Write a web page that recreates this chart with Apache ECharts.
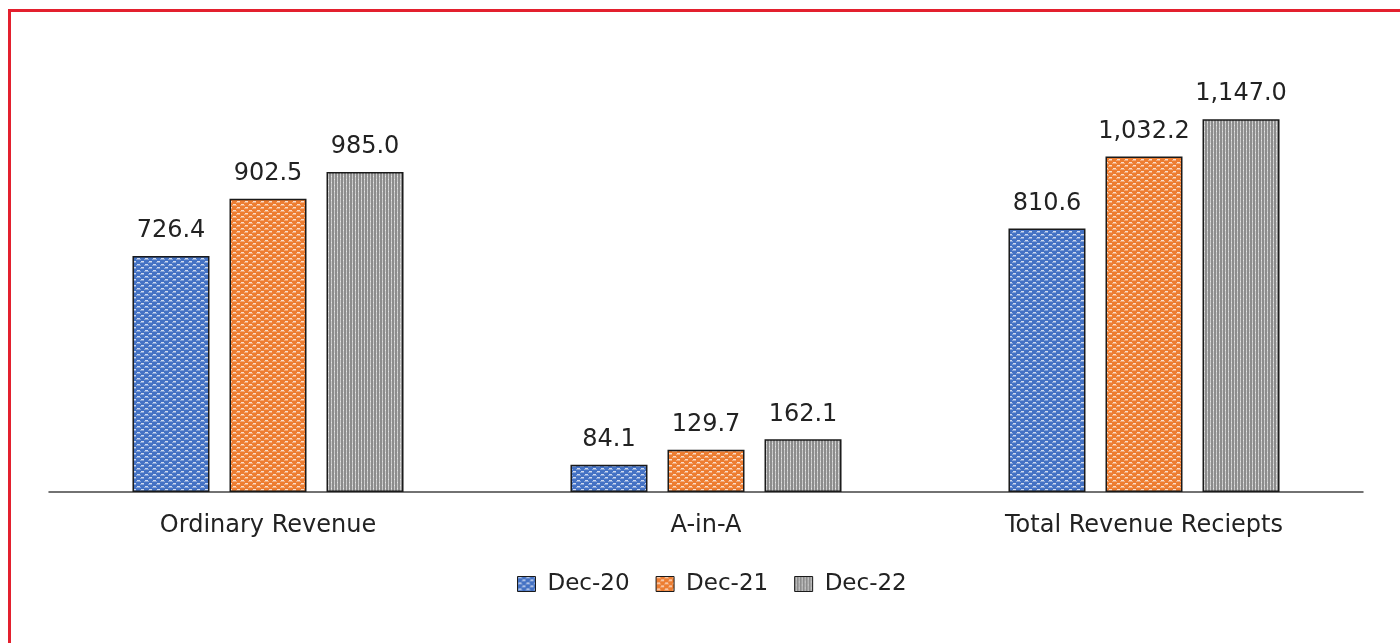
<!DOCTYPE html>
<html>
<head>
<meta charset="utf-8">
<script src="https://cdn.jsdelivr.net/npm/echarts@6/dist/echarts.min.js"></script>
<style>
  html, body { margin: 0; padding: 0; background: #fff; }
  #frame { position: absolute; left: 8px; top: 9px; width: 1392px; height: 634px;
           border-top: 3px solid #E3202E; border-left: 3px solid #E3202E; box-sizing: border-box; }
  #chart { position: absolute; left: 0; top: 0; width: 1400px; height: 643px; }
</style>
</head>
<body>
<div id="chart"></div>
<div id="frame"></div>
<script>
// Revenue figures by head, three periods
const categories = ['Ordinary Revenue', 'A-in-A', 'Total Revenue Reciepts'];
const periods = ['Dec-20', 'Dec-21', 'Dec-22'];
const dec20 = [726.4, 84.1, 810.6];
const dec21 = [902.5, 129.7, 1032.2];
const dec22 = [985.0, 162.1, 1147.0];

// Small repeating tiles used as textured fills
function dotTile(base) {
  const c = document.createElement('canvas');
  c.width = 8; c.height = 6;
  const g = c.getContext('2d');
  g.fillStyle = base; g.fillRect(0, 0, 8, 6);
  g.fillStyle = 'rgba(255,255,255,0.75)';
  g.fillRect(1, 0, 3, 1);
  g.fillRect(5, 3, 3, 1);
  g.fillStyle = 'rgba(255,255,255,0.35)';
  g.fillRect(0, 1, 5, 1);
  g.fillRect(4, 4, 4, 1);
  return c;
}
function stripeTile() {
  const c = document.createElement('canvas');
  c.width = 6; c.height = 6;
  const g = c.getContext('2d');
  g.fillStyle = '#8c8c8c'; g.fillRect(0, 0, 6, 6);
  g.fillStyle = '#c9c9c9';
  g.fillRect(1, 0, 1, 6);
  g.fillRect(4, 0, 1, 6);
  g.fillStyle = '#e6e6e6';
  g.fillRect(1, 2, 1, 1);
  g.fillRect(4, 5, 1, 1);
  return c;
}
const fills = [
  { image: dotTile('#4472C4'), repeat: 'repeat' },
  { image: dotTile('#ED7D31'), repeat: 'repeat' },
  { image: stripeTile(), repeat: 'repeat' }
];

const fmt = v => v.toLocaleString('en-US', { minimumFractionDigits: 1, maximumFractionDigits: 1 });
const font = '"DejaVu Sans", sans-serif';

function barSeries(name, data, i) {
  return {
    name, type: 'bar', data,
    barWidth: 77, barGap: '26%',
    itemStyle: { color: fills[i], borderColor: '#1a1a1a', borderWidth: 1.5 },
    label: {
      show: true, position: 'top', distance: 13,
      color: '#222', fontSize: 24, fontFamily: font,
      formatter: p => fmt(p.value)
    },
    emphasis: { disabled: true }
  };
}

const chart = echarts.init(document.getElementById('chart'));
chart.setOption({
  animation: false,
  backgroundColor: 'transparent',
  grid: { left: 49, right: 37, top: 37, height: 455 },
  xAxis: {
    type: 'category', data: categories,
    axisLine: { lineStyle: { color: '#444', width: 1.5 } },
    axisTick: { show: false },
    axisLabel: { color: '#222', fontSize: 24, fontFamily: font, margin: 22 }
  },
  yAxis: { type: 'value', min: 0, max: 1400, show: false, splitLine: { show: false } },
  legend: {
    top: 566, left: 512, itemWidth: 18, itemHeight: 15, itemGap: 26,
    textStyle: { color: '#222', fontSize: 23, fontFamily: font, lineHeight: 26, padding: [0, 0, 0, 7] },
    data: periods.map((p, i) => ({
      name: p, icon: 'rect',
      itemStyle: { color: fills[i], borderColor: '#1a1a1a', borderWidth: 1 }
    }))
  },
  series: [
    barSeries(periods[0], dec20, 0),
    barSeries(periods[1], dec21, 1),
    barSeries(periods[2], dec22, 2)
  ]
});
</script>
</body>
</html>
